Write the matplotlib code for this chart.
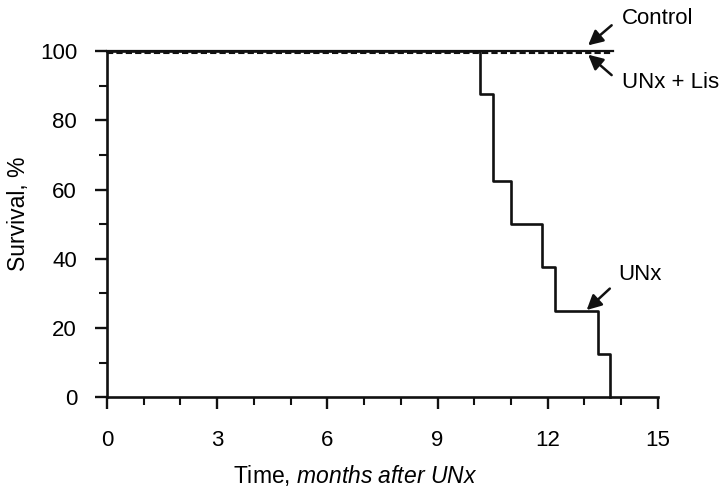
import matplotlib.pyplot as plt
from matplotlib.ticker import MultipleLocator

# Kaplan-Meier style steps for UNx
unx_time = [0, 10.16, 10.5, 11.0, 11.84, 12.19, 13.38, 13.7]
unx_surv = [100, 87.5, 62.5, 50, 37.5, 25, 12.5, 0]

control_time = [0, 13.78]
control_surv = [100, 100]

lis_time = [0, 13.78]
lis_surv = [99.4, 99.4]

x_ticks = [0, 3, 6, 9, 12, 15]
y_ticks = [0, 20, 40, 60, 80, 100]

plt.rcParams.update({
    "font.family": ["Liberation Sans", "DejaVu Sans"],
    "font.size": 16,
    "mathtext.fontset": "custom",
    "mathtext.rm": "Liberation Sans",
    "mathtext.it": "Liberation Sans:italic",
})

ink = "#111111"

fig = plt.figure(figsize=(7.27, 4.88), dpi=100)
ax = fig.add_axes([0.147, 0.186, 0.758, 0.709])

ax.plot(control_time, control_surv, color=ink, lw=1.6, clip_on=False)
ax.plot(lis_time, lis_surv, color=ink, lw=1.5, ls=(0, (3, 1.5)), clip_on=False)
ax.step(unx_time, unx_surv, where="post", color=ink, lw=1.9, clip_on=False)

ax.set_xlim(0, 15)
ax.set_ylim(0, 100)
ax.set_xticks(x_ticks)
ax.set_yticks(y_ticks)
ax.xaxis.set_minor_locator(MultipleLocator(1))
ax.yaxis.set_minor_locator(MultipleLocator(10))

for side in ("top", "right"):
    ax.spines[side].set_visible(False)
for side in ("left", "bottom"):
    ax.spines[side].set_linewidth(1.9)
    ax.spines[side].set_color(ink)

ax.tick_params(which="major", length=8.5, width=1.7, color=ink)
ax.tick_params(which="minor", length=5.5, width=1.5, color=ink)
ax.tick_params(axis="x", which="major", pad=15)
ax.tick_params(axis="y", which="major", pad=13)

ax.set_ylabel("Survival, %", fontsize=16.5)
ax.yaxis.set_label_coords(-0.140, 0.529)
ax.set_xlabel("Time, $\\it{months\\ after\\ UNx}$", fontsize=16.5)
ax.xaxis.set_label_coords(0.451, -0.19)

arrow = dict(arrowstyle="-|>,head_length=0.55,head_width=0.28", color=ink,
             lw=1.8, mutation_scale=16, shrinkA=0, shrinkB=0)

ax.text(14.01, 109.5, "Control", ha="left", va="center", clip_on=False)
ax.annotate("", xy=(13.10, 101.7), xytext=(13.74, 107.5),
            arrowprops=arrow, annotation_clip=False)

ax.text(14.01, 91.0, "UNx + Lis", ha="left", va="center", clip_on=False)
ax.annotate("", xy=(13.10, 99.0), xytext=(13.74, 93.1),
            arrowprops=arrow, annotation_clip=False)

ax.text(13.91, 35.5, "UNx", ha="left", va="center", clip_on=False)
ax.annotate("", xy=(13.06, 25.2), xytext=(13.69, 31.4),
            arrowprops=arrow, annotation_clip=False)

fig.savefig("out.png", dpi=100)
